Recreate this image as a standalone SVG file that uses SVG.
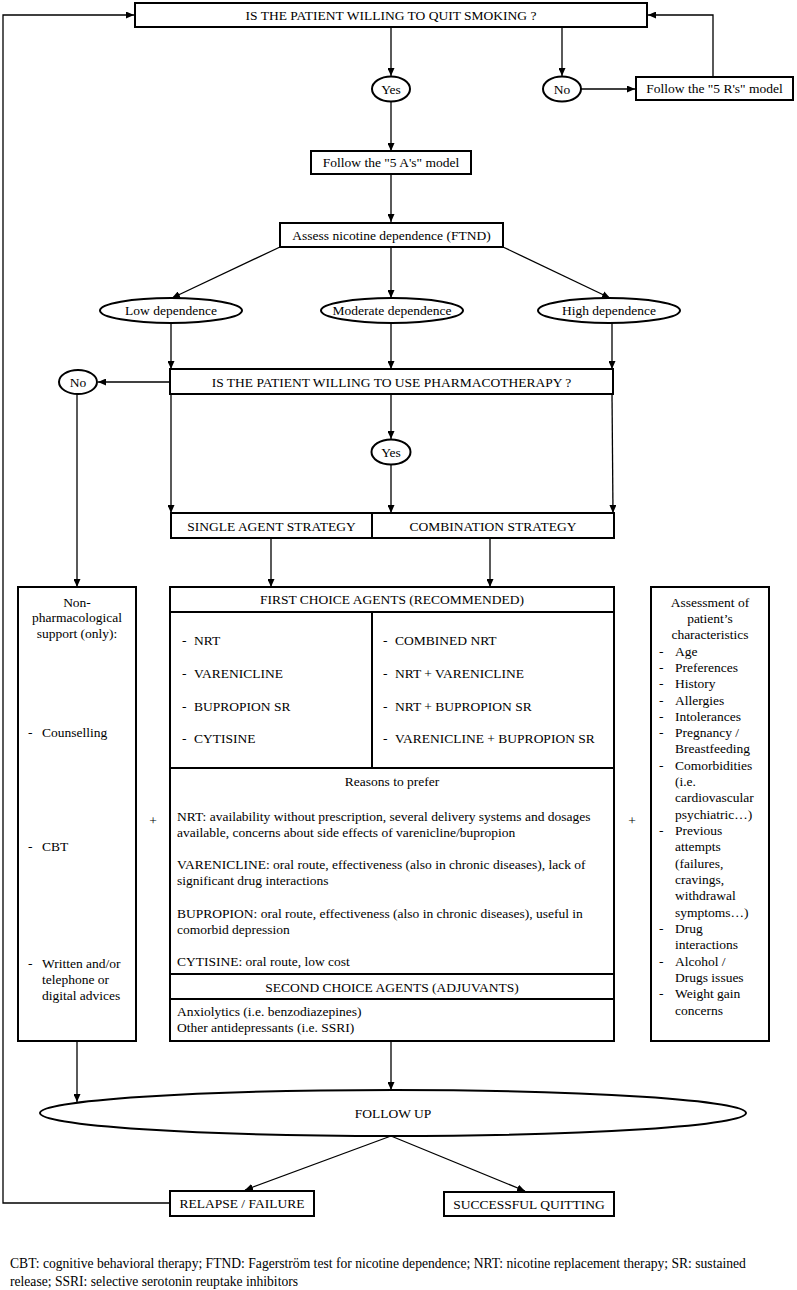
<svg xmlns="http://www.w3.org/2000/svg" width="797" height="1290" viewBox="0 0 797 1290">
<defs>
<marker id="ah" markerUnits="userSpaceOnUse" markerWidth="8" markerHeight="7" refX="8" refY="3.5" orient="auto">
<path d="M0,0 L8,3.5 L0,7 z" fill="#000"/>
</marker>
<style>
text{font-family:"Liberation Serif","Times New Roman",serif;font-size:13.5px;fill:#000}
.c{text-anchor:middle}
.box{fill:#fff;stroke:#000;stroke-width:2}
.ln{fill:none;stroke:#000;stroke-width:1.3}
.ar{fill:none;stroke:#000;stroke-width:1.3;marker-end:url(#ah)}
.fn{font-size:13.6px}
</style>
</defs>
<rect width="797" height="1290" fill="#fff"/>

<g id="connectors">
<polyline class="ar" points="170,1203 3,1203 3,15 134,15"/>
<polyline class="ar" points="713,77 713,15 648,15"/>
<line class="ar" x1="391" y1="27" x2="391" y2="76"/>
<line class="ar" x1="562" y1="27" x2="562" y2="76"/>
<line class="ar" x1="581" y1="89" x2="635" y2="89"/>
<line class="ar" x1="391" y1="102" x2="391" y2="151"/>
<line class="ar" x1="391" y1="174" x2="391" y2="222"/>
<line class="ar" x1="280" y1="247" x2="172" y2="298"/>
<line class="ar" x1="391" y1="247" x2="391" y2="298"/>
<line class="ar" x1="503" y1="247" x2="610" y2="298"/>
<line class="ar" x1="171" y1="323" x2="171" y2="369"/>
<line class="ar" x1="391" y1="323" x2="391" y2="369"/>
<line class="ar" x1="612" y1="323" x2="612" y2="369"/>
<line class="ar" x1="170" y1="382" x2="98" y2="382"/>
<line class="ar" x1="77" y1="394" x2="77" y2="587"/>
<line class="ar" x1="171" y1="394" x2="171" y2="513"/>
<line class="ar" x1="391" y1="394" x2="391" y2="439"/>
<line class="ar" x1="391" y1="465" x2="391" y2="513"/>
<line class="ar" x1="612" y1="394" x2="613" y2="513"/>
<line class="ar" x1="271" y1="538" x2="271" y2="587"/>
<line class="ar" x1="490" y1="538" x2="490" y2="587"/>
<line class="ar" x1="77" y1="1041" x2="77" y2="1102"/>
<line class="ar" x1="391" y1="1041" x2="391" y2="1090"/>
<line class="ar" x1="391" y1="1136" x2="245" y2="1190"/>
<line class="ar" x1="391" y1="1136" x2="525" y2="1191"/>
</g>

<g id="q1">
<rect class="box" x="135" y="3" width="512" height="24"/>
<text class="c" x="391" y="20">IS THE PATIENT WILLING TO QUIT SMOKING ?</text>
</g>
<g id="yes1">
<ellipse class="box" cx="391" cy="89" rx="19" ry="12.5"/>
<text class="c" x="391" y="93.5">Yes</text>
</g>
<g id="no1">
<ellipse class="box" cx="562" cy="89" rx="19" ry="12.5"/>
<text class="c" x="562" y="93.5">No</text>
</g>
<g id="fiveR">
<rect class="box" x="636" y="77" width="157" height="23"/>
<text class="c" x="714.5" y="93">Follow the "5 R's" model</text>
</g>
<g id="fiveA">
<rect class="box" x="311" y="151" width="160" height="23"/>
<text class="c" x="391" y="167">Follow the "5 A's" model</text>
</g>
<g id="assess">
<rect class="box" x="280" y="223" width="223" height="24"/>
<text class="c" x="391.5" y="239.5">Assess nicotine dependence (FTND)</text>
</g>
<g id="low">
<ellipse class="box" cx="171" cy="310.5" rx="71" ry="12.5"/>
<text class="c" x="171" y="315">Low dependence</text>
</g>
<g id="moderate">
<ellipse class="box" cx="392" cy="310.5" rx="71" ry="12.5"/>
<text class="c" x="392" y="315">Moderate dependence</text>
</g>
<g id="high">
<ellipse class="box" cx="609" cy="310.5" rx="71" ry="12.5"/>
<text class="c" x="609" y="315">High dependence</text>
</g>
<g id="q2">
<rect class="box" x="170" y="369" width="443" height="25"/>
<text class="c" x="391.5" y="386.5">IS THE PATIENT WILLING TO USE PHARMACOTHERAPY ?</text>
</g>
<g id="no2">
<ellipse class="box" cx="78" cy="382" rx="19" ry="12"/>
<text class="c" x="78" y="386.5">No</text>
</g>
<g id="yes2">
<ellipse class="box" cx="391" cy="452" rx="19.5" ry="12.5"/>
<text class="c" x="391" y="456.5">Yes</text>
</g>
<g id="single">
<rect class="box" x="171" y="513" width="201" height="25"/>
<text class="c" x="271.5" y="530.5">SINGLE AGENT STRATEGY</text>
</g>
<g id="combination">
<rect class="box" x="372" y="513" width="242" height="25"/>
<text class="c" x="493" y="530.5">COMBINATION STRATEGY</text>
</g>

<g id="nonpharma">
<rect class="box" x="18" y="587" width="118" height="454"/>
<text class="c" x="77" y="606.5">Non-</text>
<text class="c" x="77" y="622">pharmacological</text>
<text class="c" x="77" y="637.5">support (only):</text>
<text x="28" y="736.5">-</text><text x="42" y="736.5">Counselling</text>
<text x="28" y="850.5">-</text><text x="42" y="850.5">CBT</text>
<text x="28" y="967.5">-</text><text x="42" y="967.5">Written and/or</text>
<text x="42" y="983.5">telephone or</text>
<text x="42" y="999.5">digital advices</text>
</g>

<g id="firstchoice">
<rect class="box" x="170" y="587" width="444" height="25"/>
<text class="c" x="392" y="604">FIRST CHOICE AGENTS (RECOMMENDED)</text>
</g>
<g id="singlelist">
<rect class="box" x="170" y="612" width="202" height="156"/>
<text x="182" y="645">-</text><text x="194" y="645">NRT</text>
<text x="182" y="678">-</text><text x="194" y="678">VARENICLINE</text>
<text x="182" y="711">-</text><text x="194" y="711">BUPROPION SR</text>
<text x="182" y="743">-</text><text x="194" y="743">CYTISINE</text>
</g>
<g id="combolist">
<rect class="box" x="372" y="612" width="242" height="156"/>
<text x="383" y="645">-</text><text x="395" y="645">COMBINED NRT</text>
<text x="383" y="678">-</text><text x="395" y="678">NRT + VARENICLINE</text>
<text x="383" y="711">-</text><text x="395" y="711">NRT + BUPROPION SR</text>
<text x="383" y="743">-</text><text x="395" y="743">VARENICLINE + BUPROPION SR</text>
</g>
<g id="reasons">
<rect class="box" x="170" y="768" width="444" height="206"/>
<text class="c" x="392" y="786">Reasons to prefer</text>
<text x="177" y="821">NRT: availability without prescription, several delivery systems and dosages</text>
<text x="177" y="837">available, concerns about side effects of varenicline/bupropion</text>
<text x="177" y="869">VARENICLINE: oral route, effectiveness (also in chronic diseases), lack of</text>
<text x="177" y="885">significant drug interactions</text>
<text x="177" y="918">BUPROPION: oral route, effectiveness (also in chronic diseases), useful in</text>
<text x="177" y="934">comorbid depression</text>
<text x="177" y="966">CYTISINE: oral route, low cost</text>
</g>
<g id="secondchoice">
<rect class="box" x="170" y="974" width="444" height="25"/>
<text class="c" x="392" y="991.5">SECOND CHOICE AGENTS (ADJUVANTS)</text>
</g>
<g id="adjuvants">
<rect class="box" x="170" y="999" width="444" height="42"/>
<text x="177" y="1016">Anxiolytics (i.e. benzodiazepines)</text>
<text x="177" y="1032">Other antidepressants (i.e. SSRI)</text>
</g>

<g id="plus">
<text class="c" x="153" y="825">+</text>
<text class="c" x="632" y="825">+</text>
</g>

<g id="assessment">
<rect class="box" x="651" y="587" width="118" height="454"/>
<text class="c" x="710" y="606.5">Assessment of</text>
<text class="c" x="710" y="622.8">patient’s</text>
<text class="c" x="710" y="639.1">characteristics</text>
<text x="659" y="655.5">-</text><text x="675" y="655.5">Age</text>
<text x="659" y="671.8">-</text><text x="675" y="671.8">Preferences</text>
<text x="659" y="688.1">-</text><text x="675" y="688.1">History</text>
<text x="659" y="704.5">-</text><text x="675" y="704.5">Allergies</text>
<text x="659" y="720.8">-</text><text x="675" y="720.8">Intolerances</text>
<text x="659" y="737.1">-</text><text x="675" y="737.1">Pregnancy /</text>
<text x="675" y="753.4">Breastfeeding</text>
<text x="659" y="769.7">-</text><text x="675" y="769.7">Comorbidities</text>
<text x="675" y="786">(i.e.</text>
<text x="675" y="802.4">cardiovascular</text>
<text x="675" y="818.7">psychiatric…)</text>
<text x="659" y="835">-</text><text x="675" y="835">Previous</text>
<text x="675" y="851.3">attempts</text>
<text x="675" y="867.6">(failures,</text>
<text x="675" y="884">cravings,</text>
<text x="675" y="900.3">withdrawal</text>
<text x="675" y="916.6">symptoms…)</text>
<text x="659" y="932.9">-</text><text x="675" y="932.9">Drug</text>
<text x="675" y="949.2">interactions</text>
<text x="659" y="965.5">-</text><text x="675" y="965.5">Alcohol /</text>
<text x="675" y="981.8">Drugs issues</text>
<text x="659" y="998.2">-</text><text x="675" y="998.2">Weight gain</text>
<text x="675" y="1014.5">concerns</text>
</g>

<g id="followup">
<ellipse class="box" cx="393" cy="1113" rx="353" ry="23"/>
<text class="c" x="393" y="1117.5">FOLLOW UP</text>
</g>
<g id="relapse">
<rect class="box" x="170" y="1191" width="144" height="25"/>
<text class="c" x="242" y="1208">RELAPSE / FAILURE</text>
</g>
<g id="success">
<rect class="box" x="444" y="1192" width="170" height="24"/>
<text class="c" x="529" y="1208.5">SUCCESSFUL QUITTING</text>
</g>

<g id="footnote">
<text class="fn" x="10" y="1267.5">CBT: cognitive behavioral therapy; FTND: Fagerström test for nicotine dependence; NRT: nicotine replacement therapy; SR: sustained</text>
<text class="fn" x="10" y="1285.5">release; SSRI: selective serotonin reuptake inhibitors</text>
</g>
</svg>
